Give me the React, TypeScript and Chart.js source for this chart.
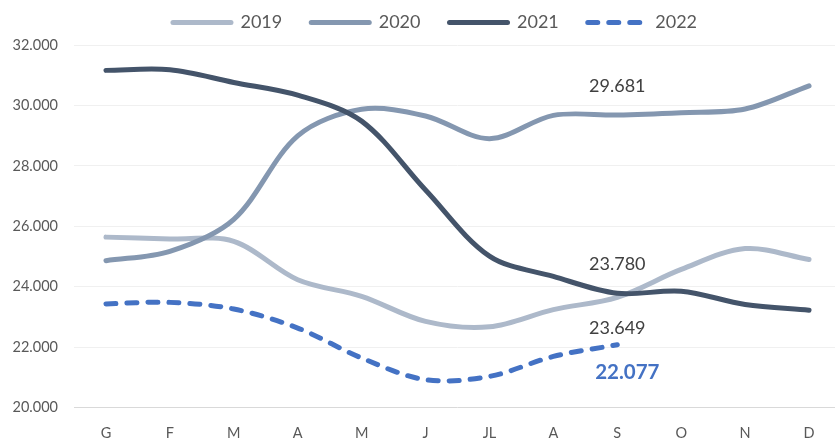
import React, { useEffect, useRef } from "react";
import { Chart, registerables } from "chart.js";

Chart.register(...registerables);

// Month initials (Italian)
const months = ["G", "F", "M", "A", "M", "J", "JL", "A", "S", "O", "N", "D"];

// Monthly values per year
const s2019 = [25640, 25580, 25500, 24230, 23680, 22850, 22670, 23240, 23649, 24570, 25260, 24900];
const s2020 = [24860, 25170, 26230, 28990, 29870, 29650, 28900, 29670, 29681, 29760, 29880, 30650];
const s2021 = [31160, 31180, 30760, 30340, 29480, 27200, 25010, 24340, 23780, 23850, 23410, 23220];
const s2022 = [23430, 23480, 23260, 22630, 21640, 20920, 21030, 21690, 22077];

const yMin = 20000;
const yMax = 32000;
const yStep = 2000;

const FONT = "Lato, 'Noto Sans', sans-serif";
const TEXT_GREY = "#595959";
const LABEL_GREY = "#404040";

// 32000 -> "32.000"
const fmt = (v: number) => String(Math.round(v)).replace(/\B(?=(\d{3})+(?!\d))/g, ".");

// Value callouts at September (index 8)
const callouts = [
  { ds: 1, idx: 8, dx: 0, dy: -29, size: 18, bold: false, color: LABEL_GREY },
  { ds: 2, idx: 8, dx: 0, dy: -29, size: 18, bold: false, color: LABEL_GREY },
  { ds: 0, idx: 8, dx: 0, dy: 31, size: 18, bold: false, color: LABEL_GREY },
  { ds: 3, idx: 8, dx: 10, dy: 28, size: 20.5, bold: true, color: "#4472C4" },
];

const calloutPlugin = {
  id: "callouts",
  afterDatasetsDraw(chart: any) {
    const ctx = chart.ctx;
    ctx.save();
    ctx.textAlign = "center";
    ctx.textBaseline = "middle";
    for (const c of callouts) {
      const meta = chart.getDatasetMeta(c.ds);
      const pt = meta.data[c.idx];
      if (!pt) continue;
      const value = chart.data.datasets[c.ds].data[c.idx] as number;
      ctx.font = `${c.bold ? "bold " : ""}${c.size}px ${FONT}`;
      ctx.fillStyle = c.color;
      ctx.fillText(fmt(value), pt.x + c.dx, pt.y + c.dy);
    }
    ctx.restore();
  },
};

// Legend row drawn with each series' own stroke style
const legendPlugin = {
  id: "lineLegend",
  afterDraw(chart: any) {
    const ctx = chart.ctx;
    const lineLen = 58;
    const textGap = 9.5;
    const itemGap = 29;
    const cx = 435;
    const cy = 22.5;
    ctx.save();
    ctx.font = `18px ${FONT}`;
    const items = chart.data.datasets.map((d: any) => ({
      d,
      tw: ctx.measureText(d.label).width,
    }));
    const total =
      items.reduce((s: number, it: any) => s + lineLen + textGap + it.tw, 0) +
      itemGap * (items.length - 1);
    let x = cx - total / 2;
    for (const it of items) {
      ctx.beginPath();
      ctx.lineWidth = it.d.borderWidth;
      ctx.strokeStyle = it.d.borderColor;
      ctx.lineCap = "round";
      ctx.setLineDash(it.d.borderDash || []);
      ctx.moveTo(x, cy);
      ctx.lineTo(x + lineLen, cy);
      ctx.stroke();
      ctx.setLineDash([]);
      ctx.fillStyle = TEXT_GREY;
      ctx.textAlign = "left";
      ctx.textBaseline = "middle";
      ctx.fillText(it.d.label, x + lineLen + textGap, cy);
      x += lineLen + textGap + it.tw + itemGap;
    }
    ctx.restore();
  },
};

export default function App() {
  const canvasRef = useRef<HTMLCanvasElement | null>(null);

  useEffect(() => {
    if (!canvasRef.current) return;
    Chart.defaults.font.family = FONT;

    const common = {
      pointRadius: 0,
      pointHoverRadius: 0,
      borderWidth: 5,
      borderCapStyle: "round" as const,
      borderJoinStyle: "round" as const,
      tension: 0.33,
      fill: false,
    };

    const chart = new Chart(canvasRef.current, {
      type: "line",
      data: {
        labels: months,
        datasets: [
          { ...common, label: "2019", data: s2019, borderColor: "#ADB9CA", order: 4 },
          { ...common, label: "2020", data: s2020, borderColor: "#8497B0", order: 3 },
          { ...common, label: "2021", data: s2021, borderColor: "#44546A", order: 2 },
          {
            ...common,
            label: "2022",
            data: s2022,
            borderColor: "#4472C4",
            borderDash: [10, 11],
            order: 1,
          },
        ],
      },
      options: {
        animation: false,
        responsive: true,
        maintainAspectRatio: false,
        layout: { padding: { top: 45, left: 0, right: 0, bottom: 0 } },
        plugins: {
          legend: { display: false },
          tooltip: { enabled: false },
        },
        scales: {
          x: {
            offset: true,
            grid: { display: false },
            border: { display: false },
            ticks: {
              color: TEXT_GREY,
              font: { size: 14.5, family: FONT },
              padding: 9,
              maxRotation: 0,
              autoSkip: false,
            },
            afterFit: (scale: any) => {
              scale.height = 33.5;
            },
          },
          y: {
            min: yMin,
            max: yMax,
            border: { display: false },
            grid: {
              drawTicks: false,
              lineWidth: 1,
              color: (c: any) => (c.tick && c.tick.value === yMin ? "#D9D9D9" : "#F0F0F0"),
            },
            ticks: {
              stepSize: yStep,
              color: TEXT_GREY,
              font: { size: 14.5, family: FONT },
              padding: 16,
              callback: (v: any) => fmt(Number(v)),
            },
            afterFit: (scale: any) => {
              scale.width = 74;
            },
          },
        },
      },
      plugins: [calloutPlugin, legendPlugin],
    });

    return () => chart.destroy();
  }, []);

  return (
    <div
      style={{
        position: "fixed",
        left: 0,
        top: 0,
        width: 835,
        height: 441,
        overflow: "hidden",
        background: "#ffffff",
      }}
    >
      <div style={{ position: "relative", width: 841, height: 441 }}>
        <canvas ref={canvasRef} />
      </div>
    </div>
  );
}
